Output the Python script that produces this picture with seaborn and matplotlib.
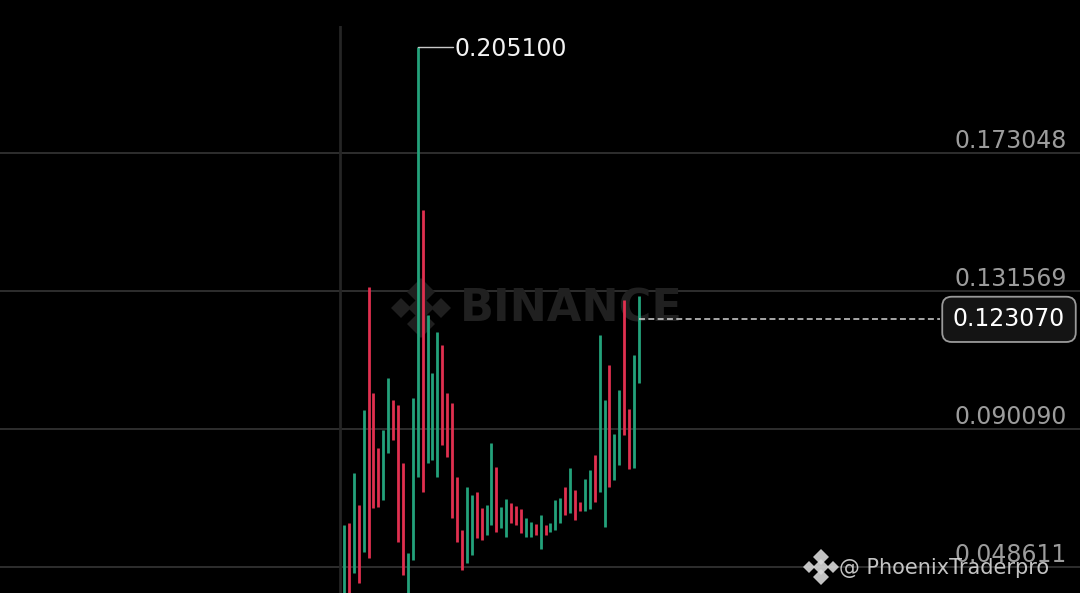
import matplotlib
matplotlib.use("Agg")
import numpy as np
import pandas as pd
import seaborn as sns
import matplotlib.pyplot as plt
from matplotlib.transforms import offset_copy

# ---- candle data (one entry per candle) ----
candle_high = [0.0612, 0.0618, 0.0768, 0.0672, 0.0958, 0.1328, 0.1009, 0.0843, 0.0898, 0.1054,
               0.0988, 0.0973, 0.0798, 0.0527, 0.0994, 0.205100, 0.1560, 0.1244, 0.1069, 0.1193,
               0.1154, 0.1009, 0.0979, 0.0756, 0.0597, 0.0726, 0.0702, 0.0711, 0.0663, 0.0672,
               0.0859, 0.0786, 0.0666, 0.0690, 0.0678, 0.0669, 0.0660, 0.0633, 0.0621, 0.0615,
               0.0642, 0.0612, 0.0618, 0.0687, 0.0693, 0.0726, 0.0783, 0.0717, 0.0681, 0.0750,
               0.0777, 0.0822, 0.1184, 0.0988, 0.1093, 0.0886, 0.1018, 0.1289, 0.0961, 0.1123,
               0.1301]
candle_low = [0.0385, 0.0380, 0.0467, 0.0437, 0.0530, 0.0512, 0.0663, 0.0666, 0.0687, 0.0828,
              0.0868, 0.0561, 0.0461, 0.0390, 0.0506, 0.0756, 0.0711, 0.0798, 0.0807, 0.0756,
              0.0853, 0.0816, 0.0633, 0.0561, 0.0476, 0.0497, 0.0521, 0.0573, 0.0567, 0.0582,
              0.0612, 0.0591, 0.0603, 0.0576, 0.0618, 0.0612, 0.0588, 0.0576, 0.0576, 0.0582,
              0.0539, 0.0582, 0.0591, 0.0597, 0.0618, 0.0642, 0.0648, 0.0627, 0.0654, 0.0654,
              0.0660, 0.0681, 0.0711, 0.0606, 0.0726, 0.0747, 0.0792, 0.0883, 0.0780, 0.0783,
              0.1039]
candle_dir = "GRGRGRRRGGRRRGGGRGGGRRRRRGGRRGGRGGRRRGGRGRGGGRGRRGGRGGRGGRRGG"

price_levels = [0.173048, 0.131569, 0.090090, 0.048611]
last_price = 0.123070
session_start = -0.9

GREEN = "#23a27b"
RED = "#e0304f"

W, H = 1080, 593
TOP = 26  # pixel row where the plotting area starts

sns.set_theme(style="dark", rc={"axes.facecolor": "#000000",
                                "figure.facecolor": "#000000",
                                "axes.grid": False})
plt.rcParams["font.family"] = ["DejaVu Sans"]

fig = plt.figure(figsize=(W / 100, H / 100), dpi=100)
ax = fig.add_axes([0, 0, 1, (H - TOP) / H])
ax.set_facecolor("#000000")

n = len(candle_high)
idx = np.arange(n)
candles = pd.DataFrame({
    "candle": np.repeat(idx, 2),
    "idx": np.repeat(idx, 2),
    "price": np.column_stack([candle_low, candle_high]).ravel(),
    "direction": np.repeat(["up" if d == "G" else "down" for d in candle_dir], 2),
})

XMIN, XMAX = -69.96, 149.7
ax.set_xlim(XMIN, XMAX)
ax.set_ylim(0.04070, 0.21137)
px_per_idx = W / (XMAX - XMIN)


def px_to_idx(x):
    return XMIN + x / px_per_idx


def px_axes(x, y):
    return x / W, (H - y) / (H - TOP)


# grid
for lvl in price_levels:
    ax.axhline(lvl, color="#353535", lw=1.2, zorder=1)
ax.axvline(session_start, color="#252525", lw=2.0, zorder=1)


# exchange logo built from diamonds
def draw_logo(cx, cy, scale, color, alpha, z):
    parts = [(0, 0, 13), (-20, 0, 10), (20, 0, 10), (0, -16, 14), (0, 16, 14)]
    for dx, dy, s in parts:
        ax.plot(*px_axes(cx + dx * scale, cy + dy * scale), marker="D",
                markersize=s * scale, color=color, alpha=alpha,
                transform=ax.transAxes, zorder=z, markeredgewidth=0)


draw_logo(421, 308, 1.0, "#1f1f1f", 1.0, 2)
ax.text(*px_axes(460, 309), "BINANCE", transform=ax.transAxes, fontsize=32,
        fontweight="bold", color="#202020", ha="left", va="center", zorder=2)

# candles: one vertical stroke per candle from low to high
sns.lineplot(data=candles, x="idx", y="price", units="candle", hue="direction",
             estimator=None, sort=False, palette={"up": GREEN, "down": RED},
             linewidth=2.0, legend=False, ax=ax, zorder=3, solid_capstyle="butt")

# right-hand price scale labels
lab_tr = offset_copy(ax.get_yaxis_transform(), fig=fig, x=0, y=5, units="dots")
for lvl in price_levels:
    ax.text(1067 / W, lvl, f"{lvl:.6f}", transform=lab_tr, ha="right",
            va="baseline", color="#9c9c9c", fontsize=17, zorder=4)

# highest price marker
pk = int(np.argmax(candle_high))
peak = candle_high[pk]
ax.plot([pk, pk + 35 / px_per_idx], [peak, peak], color="#c8c8c8", lw=1.0, zorder=4)
pk_tr = offset_copy(ax.transData, fig=fig, x=0, y=-9, units="dots")
ax.text(pk + 37 / px_per_idx, peak, f"{peak:.6f}", transform=pk_tr, ha="left",
        va="baseline", color="#f2f2f2", fontsize=17, zorder=4)

# last price line and tag
ax.plot([n - 1, px_to_idx(940)], [last_price, last_price], color="#d4d4d4",
        lw=1.1, ls=(0, (3.9, 2.2)), zorder=4)
ax.text(1009 / W, last_price, f"{last_price:.6f}", transform=ax.get_yaxis_transform(),
        ha="center", va="center", fontsize=17, color="#ffffff", zorder=5,
        bbox=dict(boxstyle="round,pad=0.45,rounding_size=0.4", fc="#141414",
                  ec="#9a9a9a", lw=1.3))

# author tag in the corner
draw_logo(821, 567, 0.6, "#d8d8d8", 0.9, 6)
ax.text(*px_axes(839, 568), "@ PhoenixTraderpro", transform=ax.transAxes,
        fontsize=15, color="#dadada", alpha=0.9, ha="left", va="center", zorder=6)

ax.axis("off")
fig.savefig("out.png", dpi=100, facecolor="#000000")
